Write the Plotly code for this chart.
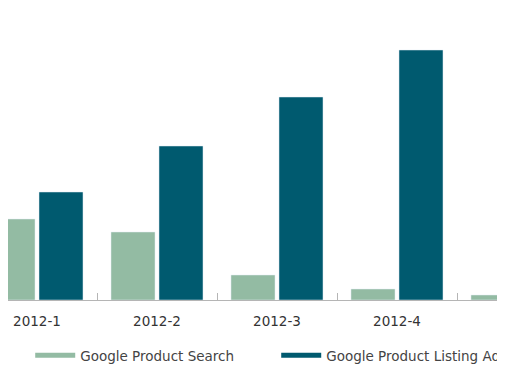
import plotly.graph_objects as go

categories = ["2012-1", "2012-2", "2012-3", "2012-4", "2013-1"]
product_search = [32.4, 27.2, 10.0, 4.4, 2.0]
product_listing_ads = [43.2, 61.6, 81.2, 100.0, 112.0]

light = "#93bba3"
dark = "#005a6f"

fig = go.Figure()
fig.add_trace(go.Bar(x=categories, y=product_search, marker_color=light,
                     name="Google Product Search", showlegend=False))
fig.add_trace(go.Bar(x=categories, y=product_listing_ads, marker_color=dark,
                     name="Google Product Listing Ads", showlegend=False))
# legend swatches
fig.add_trace(go.Scatter(x=[None], y=[None], mode="lines", line=dict(color=light, width=5),
                         name="Google Product Search"))
fig.add_trace(go.Scatter(x=[None], y=[None], mode="lines", line=dict(color=dark, width=5),
                         name="Google Product Listing Ads"))

fig.update_layout(
    width=497, height=361,
    margin=dict(l=0, r=0, t=0, b=69, autoexpand=False),
    paper_bgcolor="white", plot_bgcolor="white",
    barmode="group", bargap=0.2, bargroupgap=0.083,
    font=dict(family="DejaVu Sans, sans-serif", size=13.5, color="#333333"),
    showlegend=True,
    legend=dict(orientation="h", x=0.0447, y=-0.137, xanchor="left", yanchor="top",
                font=dict(size=13.5, color="#444444"), itemwidth=40,
                entrywidth=191, tracegroupgap=0),
)
fig.update_xaxes(type="category", range=[-0.2417, 3.9], showline=True, linecolor="#b5b5b5",
                 linewidth=1, ticks="inside", ticklen=7, tickcolor="#b5b5b5",
                 tickson="boundaries", showgrid=False, layer="below traces", automargin=False,
                 tickfont=dict(size=13.5, color="#333333"), ticklabelstandoff=9)
fig.update_yaxes(range=[0, 116.8], visible=False, showgrid=False, automargin=False)

fig.write_html("out.html")
